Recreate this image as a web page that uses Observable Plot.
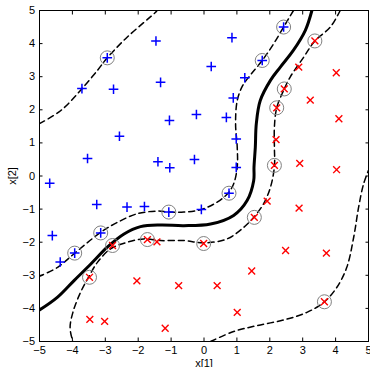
<!DOCTYPE html>
<html><head><meta charset="utf-8">
<script src="https://cdn.jsdelivr.net/npm/d3@7"></script>
<script src="https://cdn.jsdelivr.net/npm/@observablehq/plot@0.6"></script>
<style>html,body{margin:0;padding:0;background:#fff}</style>
</head><body><div id="chart"></div>
<script>
const xTicks = [-5,-4,-3,-2,-1,0,1,2,3,4,5];
const yTicks = [-5,-4,-3,-2,-1,0,1,2,3,4,5];

// class +1 (blue plus)
const bluePoints = [
  [-2.94,3.57],[-3.71,2.64],[-2.75,2.62],[-1.46,4.08],[-1.32,2.83],[-1.05,1.68],[-2.57,1.20],[-3.54,0.53],[-1.40,0.43],[-1.04,0.25],[-4.69,-0.22],
  [2.42,4.50],[0.85,4.18],[0.22,3.31],[1.77,3.49],[1.24,2.97],[0.89,2.36],[-0.23,1.86],[0.68,1.77],[0.98,1.12],[-0.29,0.50],[0.98,0.26],
  [-3.26,-0.86],[-2.34,-0.94],[-1.81,-0.92],[-1.07,-1.09],[-4.61,-1.80],[-3.14,-1.72],[-3.93,-2.33],[-4.37,-2.60],[0.76,-0.52],[-0.08,-1.01]
];
// class -1 (red times)
const redPoints = [
  [3.37,4.08],[2.88,3.29],[4.02,3.12],[2.44,2.63],[3.23,2.29],[2.21,2.06],[4.10,1.73],[2.19,1.10],[2.14,0.32],[2.91,0.38],[4.03,0.19],
  [1.92,-0.76],[2.89,-0.97],[1.53,-1.25],[-0.01,-2.04],[2.48,-2.25],[3.72,-2.33],[1.45,-2.87],[0.40,-3.31],[3.66,-3.80],[1.01,-4.12],
  [-2.78,-2.10],[-1.72,-1.92],[-1.43,-1.99],[-3.48,-3.06],[-2.04,-3.17],[-0.77,-3.31],[-3.47,-4.33],[-3.02,-4.39],[-1.18,-4.60]
];
// support vectors (circled)
const supportVectors = [
  [-2.94,3.57],[2.42,4.50],[1.77,3.49],[-1.07,-1.09],[-3.14,-1.72],[-3.93,-2.33],[0.76,-0.52],
  [3.37,4.08],[2.44,2.63],[2.21,2.06],[2.14,0.32],[-2.78,-2.10],[-1.72,-1.92],[-3.48,-3.06],[1.53,-1.25],[-0.01,-2.04],[3.66,-3.80]
];
// decision boundary f(x)=0
const boundary = [
  [-5.0,-4.05],[-4.45,-3.66],[-3.95,-3.16],[-3.44,-2.66],[-2.94,-2.15],[-2.43,-1.75],[-1.93,-1.53],[-1.32,-1.48],[-0.61,-1.50],
  [0.20,-1.45],[0.90,-1.19],[1.31,-0.74],[1.51,-0.14],[1.52,0.27],[1.56,0.87],[1.59,1.58],[1.71,2.28],[2.02,2.89],[2.32,3.29],
  [2.72,3.80],[3.08,4.40],[3.28,5.0]
];
// margin f(x)=+1, upper-left piece
const marginPosA = [
  [-5.0,1.58],[-4.35,1.98],[-3.75,2.59],[-3.24,3.19],[-2.94,3.57],[-2.33,4.20],[-1.47,4.95],[-1.43,5.0]
];
// margin f(x)=+1, main piece
const marginPosB = [
  [2.72,5.0],[2.60,4.80],[2.42,4.50],[2.12,4.0],[1.77,3.49],[1.41,3.05],[1.17,2.72],[1.01,2.28],[0.96,1.58],[1.01,0.87],
  [1.01,0.27],[0.90,-0.24],[0.73,-0.52],[0.40,-0.79],[-0.11,-1.02],[-0.61,-1.09],[-1.07,-1.09],[-1.42,-1.06],[-2.03,-1.14],
  [-2.63,-1.40],[-3.14,-1.70],[-3.95,-2.35],[-4.45,-2.76],[-5.0,-3.03]
];
// margin f(x)=-1, main piece
const marginNegA = [
  [4.14,5.0],[3.84,4.50],[3.37,4.08],[3.03,3.59],[2.62,2.99],[2.44,2.63],[2.21,2.06],[2.14,1.48],[2.14,0.87],[2.14,0.29],
  [2.02,-0.34],[1.81,-0.84],[1.51,-1.25],[1.21,-1.55],[0.70,-1.90],[-0.01,-2.02],[-0.61,-1.95],[-1.32,-1.95],[-1.83,-1.90],
  [-2.33,-2.0],[-2.84,-2.20],[-3.24,-2.61],[-3.50,-3.04],[-3.75,-3.51],[-3.97,-4.07],[-4.07,-4.57],[-4.0,-4.95],[-3.98,-5.0]
];
// margin f(x)=-1, lower-right piece
const marginNegB = [
  [0.20,-5.0],[0.90,-4.70],[1.61,-4.52],[2.42,-4.35],[3.13,-4.12],[3.66,-3.80],[4.04,-3.36],[4.34,-2.76],[4.55,-1.85],
  [4.70,-0.94],[4.85,-0.24],[5.0,0.17]
];

const px = d => d[0], py = d => d[1];
const dashed = {x: px, y: py, curve: "catmull-rom", stroke: "black", strokeWidth: 1.5, strokeDasharray: "6,4", clip: true};

const chart = Plot.plot({
  width: 370,
  height: 367,
  marginLeft: 39,
  marginRight: 2,
  marginTop: 10,
  marginBottom: 26,
  style: {fontFamily: "'Liberation Sans', Arial, Helvetica, sans-serif", fontSize: "11px", background: "white", color: "black"},
  x: {domain: [-5, 5]},
  y: {domain: [-5, 5]},
  marks: [
    Plot.line(boundary, {x: px, y: py, curve: "catmull-rom", stroke: "black", strokeWidth: 3, clip: true}),
    Plot.line(marginPosA, dashed),
    Plot.line(marginPosB, dashed),
    Plot.line(marginNegA, dashed),
    Plot.line(marginNegB, dashed),
    Plot.dot(bluePoints, {x: px, y: py, symbol: "plus", r: 3.2, stroke: "#0000ff", strokeWidth: 1.5}),
    Plot.dot(redPoints, {x: px, y: py, symbol: "times", r: 3.2, stroke: "#ff0000", strokeWidth: 1.4}),
    Plot.dot(supportVectors, {x: px, y: py, r: 7, stroke: "#808080", strokeWidth: 1, fill: "none"}),
    Plot.frame({stroke: "black", strokeWidth: 1}),
    Plot.axisX({anchor: "bottom", ticks: xTicks, tickSize: -3.5, tickPadding: 8, label: "x[1]", labelAnchor: "center", labelOffset: 25, labelArrow: "none"}),
    Plot.axisX({anchor: "top", ticks: xTicks, tickSize: -3.5, tickFormat: () => "", label: null}),
    Plot.axisY({anchor: "left", ticks: yTicks, tickSize: -3.5, tickPadding: 8, label: "x[2]", labelAnchor: "center", labelOffset: 31, labelArrow: "none"}),
    Plot.axisY({anchor: "right", ticks: yTicks, tickSize: -3.5, tickFormat: () => "", label: null})
  ]
});
document.getElementById("chart").appendChild(chart);
</script>
</body></html>
